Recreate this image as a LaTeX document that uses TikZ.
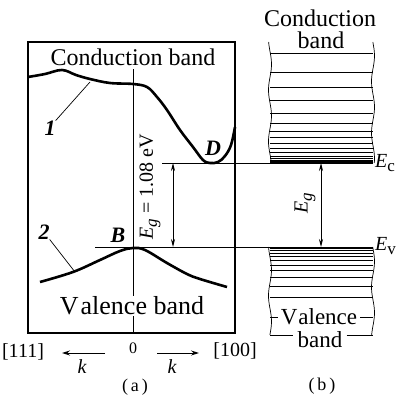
\documentclass[tikz,border=0pt]{standalone}
\usepackage{fontspec}
\setmainfont{Liberation Serif}
\usetikzlibrary{arrows.meta, positioning, calc}
\newcommand{\Esub}[1]{\textit{E}\raisebox{-0.45ex}{\fontsize{17}{17}\selectfont #1}}

\begin{document}
\begin{tikzpicture}[x=1pt, y=-1pt,
  lbl/.style={font=\fontsize{24}{26}\selectfont, inner sep=0pt},
  tag/.style={font=\fontsize{22}{24}\selectfont\bfseries\itshape, inner sep=0pt},
  axis/.style={font=\fontsize{20}{22}\selectfont, inner sep=0pt},
  curve/.style={line width=2.6pt, line join=round},
  level/.style={line width=0.7pt},
  gap/.style={{Stealth[length=8pt,width=4pt]}-{Stealth[length=8pt,width=4pt]}, line width=0.8pt}]
  \useasboundingbox (0,0) rectangle (399,399);

  % (a) E(k) diagram
  \draw[line width=1.6pt] (28,42) rectangle (235,333);
  \coordinate (kTop) at (133,69);
  \coordinate (kBot) at (133,333);
  \draw[level] (kTop) -- (kBot);
  \node[lbl] (cbA) at (133,57) {Conduction band};
  \node[lbl, font=\fontsize{26}{28}\selectfont, fill=white, inner sep=1pt] (vbA) at (132,306) {V\kern2pt alence band};

  \draw[curve] plot[smooth, tension=0.6] coordinates {(28,77) (45,74) (62,70) (76,75) (90,79)
    (110,83) (133,84) (147,87) (157,97) (167,110) (180,130) (193,147) (203,160)
    (210,163) (218,162) (225,156) (231,145) (235,127)};
  \draw[curve] plot[smooth, tension=0.6] coordinates {(40,282) (73,272) (100,260) (120,251)
    (133,248) (145,250) (167,263) (187,274) (200,279) (227,287)};

  \node[tag] (one) at (50,128) {1};
  \coordinate (oneEnd) at (90,82);
  \draw[level] (one.north east) -- (oneEnd);
  \node[tag] (two) at (44,232) {2};
  \coordinate (twoEnd) at (75,272);
  \draw[level] (two.south east) -- (twoEnd);
  \node[tag] (ptB) at (118,235) {B};
  \node[tag] (ptD) at (213,148) {D};

  % levels
  \coordinate (ecL) at (162,163);
  \coordinate (ecR) at (373,163);
  \coordinate (evL) at (95,247);
  \coordinate (evR) at (373,247);
  \draw[level] (ecL) -- (ecR);
  \draw[level] (evL) -- (evR);

  \coordinate (gA1) at (173,163);
  \coordinate (gA2) at (173,247);
  \draw[gap] (gA1) -- (gA2);
  \node[axis, rotate=90] (egA) at (150,187) {\Esub{\textit{g}} = 1.08 eV};

  % axis labels
  \node[axis] (dirL) at (23,352) {[111]};
  \node[axis, font=\fontsize{16}{18}\selectfont] (zero) at (133,348) {0};
  \node[axis] (dirR) at (235,351) {[100]};
  \coordinate (kL1) at (105,353);
  \coordinate (kL2) at (62,353);
  \coordinate (kR1) at (157,353);
  \coordinate (kR2) at (199,353);
  \draw[-{Stealth[length=8pt,width=5pt]}, line width=0.9pt] (kL1) -- (kL2);
  \draw[-{Stealth[length=8pt,width=5pt]}, line width=0.9pt] (kR1) -- (kR2);
  \node[tag, font=\fontsize{20}{22}\selectfont\itshape] (kL) at (82,367) {k};
  \node[tag, font=\fontsize{20}{22}\selectfont\itshape] (kR) at (172,367) {k};
  \node[axis, font=\fontsize{18}{20}\selectfont] (capA) at (135,387) {(\,a\,)};

  % (b) band picture
  \node[lbl] (cbB1) at (320,18) {Conduction};
  \node[lbl] (cbB2) at (321,40) {band};
  \draw[level] plot[domain=42:163, samples=40] ({270+1.5*sin(\x*7)},\x);
  \draw[level] plot[domain=42:163, samples=40] ({373+1.5*sin(\x*7+60)},\x);
  \foreach \yy in {53,72,87,100,113,123,131,137,143,148,152,156,158.5,160.5}
    \draw[level] (270,\yy) -- (373,\yy);
  \draw[line width=2pt] (270,162) -- (373,162);

  \draw[level] plot[domain=247:335, samples=30] ({270+1.5*sin(\x*7)},\x);
  \draw[level] plot[domain=247:335, samples=30] ({373+1.5*sin(\x*7+60)},\x);
  \draw[line width=2pt] (270,248) -- (373,248);
  \foreach \yy in {250.5,253,256,260,265,270,277,286,297}
    \draw[level] (270,\yy) -- (373,\yy);
  \node[lbl, font=\fontsize{23}{24}\selectfont] (vbB1) at (319,317) {V\kern1pt alence};
  \node[lbl, font=\fontsize{23}{24}\selectfont] (vbB2) at (320,340) {band};
  \draw[level] (270,317) -- ($(vbB1.west)+(-3,0)$);
  \draw[level] ($(vbB1.east)+(3,0)$) -- (373,317);
  \draw[level] (270,335) -- ($(vbB2.west)+(-4,-5)$);
  \draw[level] ($(vbB2.east)+(4,-5)$) -- (373,335);

  \coordinate (gB1) at (321,163);
  \coordinate (gB2) at (321,247);
  \draw[gap] (gB1) -- (gB2);
  \node[axis, rotate=90] (egB) at (305,203) {\Esub{\textit{g}}};
  \node[axis, anchor=west] (ec) at (375,163) {\Esub{c}};
  \node[axis, anchor=west] (ev) at (375,246) {\Esub{v}};
  \node[axis, font=\fontsize{18}{20}\selectfont] (capB) at (322,386) {(\,b\,)};
\end{tikzpicture}
\end{document}
